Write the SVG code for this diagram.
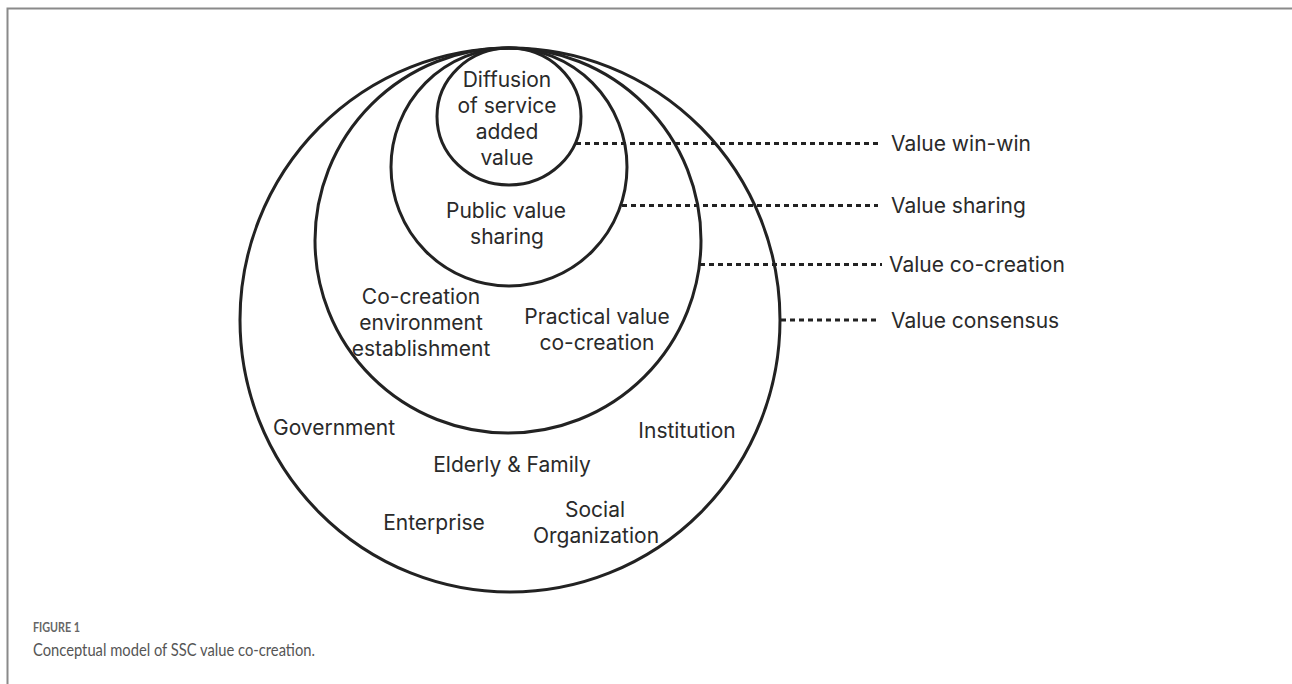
<svg xmlns="http://www.w3.org/2000/svg" width="1292" height="684" viewBox="0 0 1292 684">
  <style>
    .ring { fill: none; stroke: #222; stroke-width: 3; }
    .lead { fill: none; stroke: #222; stroke-width: 3; stroke-dasharray: 5 4; }
    .lbl { font-family: "Inter", "Open Sans", sans-serif; font-size: 21px; fill: #2a2a2a; text-anchor: middle; }
    .side { font-family: "Inter", "Open Sans", sans-serif; font-size: 21px; fill: #2a2a2a; }
    .fig { font-family: "Lato", "Liberation Sans", sans-serif; font-size: 14px; font-weight: bold; fill: #666; }
    .cap { font-family: "Lato", "Liberation Sans", sans-serif; font-size: 18px; fill: #555; }
  </style>
  <rect width="1292" height="684" fill="#fff"/>
  <!-- figure frame -->
  <path d="M7.5 684 V8.5 H1292" fill="none" stroke="#8a8a8a" stroke-width="2"/>

  <g id="ring-consensus">
    <ellipse class="ring" cx="510" cy="320" rx="270" ry="272"/>
    <text class="lbl" x="334" y="435">Government</text>
    <text class="lbl" x="687" y="438">Institution</text>
    <text class="lbl" x="512" y="472">Elderly &amp; Family</text>
    <text class="lbl" x="434" y="530">Enterprise</text>
    <text class="lbl" x="595" y="517">Social</text>
    <text class="lbl" x="596" y="543">Organization</text>
  </g>

  <g id="ring-cocreation">
    <ellipse class="ring" cx="508" cy="240.5" rx="193" ry="192.5"/>
    <text class="lbl" x="421" y="304">Co-creation</text>
    <text class="lbl" x="421" y="330">environment</text>
    <text class="lbl" x="421" y="356">establishment</text>
    <text class="lbl" x="597" y="324">Practical value</text>
    <text class="lbl" x="597" y="350">co-creation</text>
  </g>

  <g id="ring-sharing">
    <ellipse class="ring" cx="509" cy="167" rx="118" ry="119"/>
    <text class="lbl" x="506" y="218">Public value</text>
    <text class="lbl" x="507" y="244">sharing</text>
  </g>

  <g id="ring-winwin">
    <ellipse class="ring" cx="509" cy="116.5" rx="72" ry="68.5"/>
    <text class="lbl" x="507" y="87">Diffusion</text>
    <text class="lbl" x="507" y="113">of service</text>
    <text class="lbl" x="507" y="139">added</text>
    <text class="lbl" x="507" y="165">value</text>
  </g>

  <g id="connectors">
    <line class="lead" x1="576" y1="143.5" x2="880" y2="143.5"/>
    <line class="lead" x1="622" y1="205.5" x2="878" y2="205.5"/>
    <line class="lead" x1="700" y1="264.5" x2="882" y2="264.5"/>
    <line class="lead" x1="781" y1="320" x2="880" y2="320"/>
  </g>

  <g id="levels">
    <text class="side" x="891" y="151">Value win-win</text>
    <text class="side" x="891" y="213">Value sharing</text>
    <text class="side" x="889" y="272">Value co-creation</text>
    <text class="side" x="891" y="328">Value consensus</text>
  </g>

  <g id="caption">
    <text class="fig" x="33" y="632" textLength="47" lengthAdjust="spacingAndGlyphs">FIGURE 1</text>
    <text class="cap" x="33" y="656" textLength="282" lengthAdjust="spacingAndGlyphs">Conceptual model of SSC value co-creation.</text>
  </g>
</svg>
